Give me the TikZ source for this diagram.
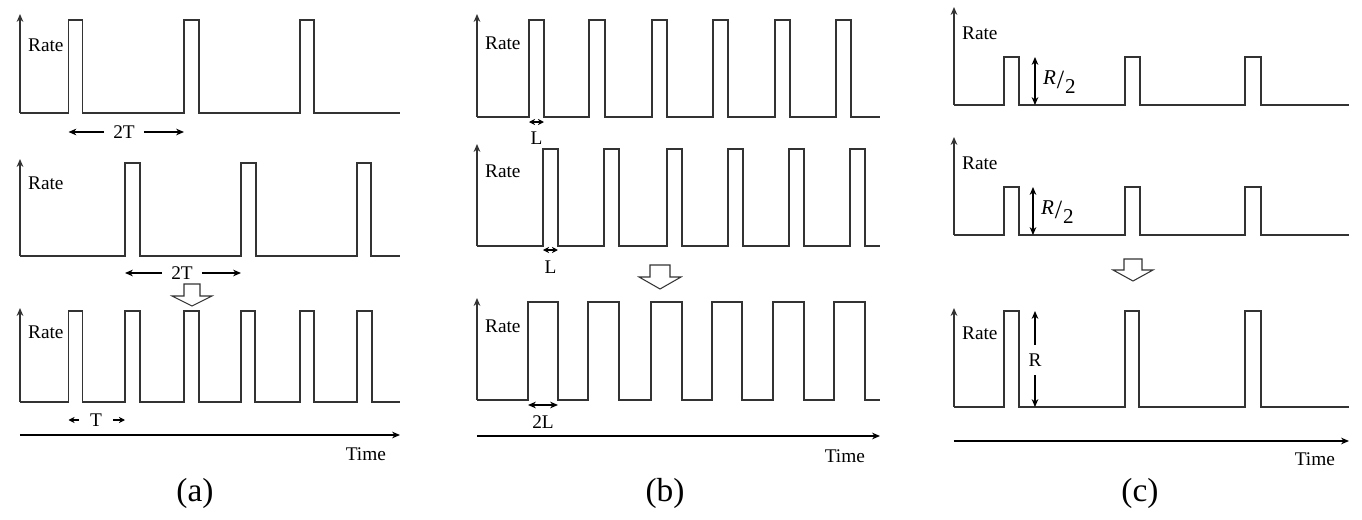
\documentclass[tikz,border=0pt]{standalone}
\usepackage{fontspec}
\setmainfont{Liberation Serif}
\usetikzlibrary{arrows.meta}
\begin{document}
\begin{tikzpicture}[scale=0.2, font=\fontsize{11}{13}\selectfont, line join=miter, >={Stealth[length=4.5pt,width=3.8pt]},
	signal/.style={draw=black!80, line width=0.8pt},
	dim/.style={draw=black, line width=0.6pt},
	short/.style={dim, >={Stealth[length=3.5pt,width=3.5pt]}},
	lbl/.style={inner sep=1pt},
	gap/.style={inner xsep=5pt, inner ysep=1pt},
	hollow/.style={draw=black!80, line width=0.6pt, fill=white},
	caption/.style={font=\fontsize{19}{22}\selectfont}]
	\useasboundingbox (0,0) rectangle (136.2,52);

	% (a) two trains with period 2T, shifted by T
	\draw[signal,->] (2,40.7)--(2,50.6);
	\draw[signal] (2,40.7)--(6.85,40.7)--(6.85,50)--(8.25,50)--(8.25,40.7)--(18.4,40.7)--(18.4,50)--(19.9,50)--(19.9,40.7)--(30,40.7)--(30,50)--(31.4,50)--(31.4,40.7)--(40,40.7);
	\node[lbl,anchor=west] (rateA1) at (2.6,47.5) {Rate};
	\node[gap] (twoTa) at (12.4,38.8) {2T};
	\coordinate (twoTaL) at (6.85,38.8);
	\coordinate (twoTaR) at (18.4,38.8);
	\draw[dim,->] (twoTa.west)--(twoTaL);
	\draw[dim,->] (twoTa.east)--(twoTaR);

	\draw[signal,->] (2,26.4)--(2,36.1);
	\draw[signal] (2,26.4)--(12.5,26.4)--(12.5,35.7)--(14,35.7)--(14,26.4)--(24.1,26.4)--(24.1,35.7)--(25.6,35.7)--(25.6,26.4)--(35.7,26.4)--(35.7,35.7)--(37.1,35.7)--(37.1,26.4)--(40,26.4);
	\node[lbl,anchor=west] (rateA2) at (2.6,33.7) {Rate};
	\node[gap] (twoTb) at (18.2,24.7) {2T};
	\coordinate (twoTbL) at (12.5,24.7);
	\coordinate (twoTbR) at (24.1,24.7);
	\draw[dim,->] (twoTb.west)--(twoTbL);
	\draw[dim,->] (twoTb.east)--(twoTbR);

	\draw[hollow] (18.4,23.6)--(20,23.6)--(20,22.4)--(21.2,22.4)--(19.2,21.4)--(17.2,22.4)--(18.4,22.4)--cycle;

	\draw[signal,->] (2,11.8)--(2,21.2);
	\draw[signal] (2,11.8)--(6.85,11.8)--(6.85,20.9)--(8.25,20.9)--(8.25,11.8)--(12.5,11.8)--(12.5,20.9)--(14,20.9)--(14,11.8)--(18.4,11.8)--(18.4,20.9)--(19.9,20.9)--(19.9,11.8)--(24.1,11.8)--(24.1,20.9)--(25.5,20.9)--(25.5,11.8)--(30,11.8)--(30,20.9)--(31.4,20.9)--(31.4,11.8)--(35.7,11.8)--(35.7,20.9)--(37.2,20.9)--(37.2,11.8)--(40,11.8);
	\node[lbl,anchor=west] (rateA3) at (2.6,18.8) {Rate};
	\node[gap,inner xsep=6pt] (oneT) at (9.6,10) {T};
	\coordinate (oneTL) at (6.85,10);
	\coordinate (oneTR) at (12.5,10);
	\draw[short,->] (oneT.west)--(oneTL);
	\draw[short,->] (oneT.east)--(oneTR);

	\coordinate (timeA0) at (2,8.5);
	\coordinate (timeA1) at (40,8.5);
	\draw[dim,->] (timeA0)--(timeA1);
	\node[lbl,anchor=east] (timeA) at (38.8,6.6) {Time};
	\node[caption] (capA) at (19.5,2.7) {(a)};

	% (b) two trains of width L, merged into width 2L
	\draw[signal,->] (47.7,40.3)--(47.7,50.6);
	\draw[signal] (47.7,40.3)--(52.9,40.3)--(52.9,50)--(54.4,50)--(54.4,40.3)--(58.9,40.3)--(58.9,50)--(60.5,50)--(60.5,40.3)--(65.2,40.3)--(65.2,50)--(66.7,50)--(66.7,40.3)--(71.3,40.3)--(71.3,50)--(72.8,50)--(72.8,40.3)--(77.5,40.3)--(77.5,50)--(79,50)--(79,40.3)--(83.6,40.3)--(83.6,50)--(85.1,50)--(85.1,40.3)--(88,40.3);
	\node[lbl,anchor=west] (rateB1) at (48.3,47.7) {Rate};
	\coordinate (lenAL) at (52.9,39.8);
	\coordinate (lenAR) at (54.4,39.8);
	\draw[short,<->] (lenAL)--(lenAR);
	\node[lbl] (lenA) at (53.65,38.2) {L};

	\draw[signal,->] (47.7,27.4)--(47.7,37.6);
	\draw[signal] (47.7,27.4)--(54.3,27.4)--(54.3,37.1)--(55.8,37.1)--(55.8,27.4)--(60.4,27.4)--(60.4,37.1)--(61.9,37.1)--(61.9,27.4)--(66.7,27.4)--(66.7,37.1)--(68.2,37.1)--(68.2,27.4)--(72.8,27.4)--(72.8,37.1)--(74.3,37.1)--(74.3,27.4)--(78.9,27.4)--(78.9,37.1)--(80.4,37.1)--(80.4,27.4)--(85,27.4)--(85,37.1)--(86.5,37.1)--(86.5,27.4)--(88,27.4);
	\node[lbl,anchor=west] (rateB2) at (48.3,34.9) {Rate};
	\coordinate (lenBL) at (54.3,27);
	\coordinate (lenBR) at (55.8,27);
	\draw[short,<->] (lenBL)--(lenBR);
	\node[lbl] (lenB) at (55.05,25.3) {L};

	\draw[hollow] (65,25.5)--(67,25.5)--(67,24.3)--(68.1,24.3)--(66,23.1)--(63.9,24.3)--(65,24.3)--cycle;

	\draw[signal,->] (47.7,12)--(47.7,22.2);
	\draw[signal] (47.7,12)--(52.8,12)--(52.8,21.8)--(55.8,21.8)--(55.8,12)--(58.8,12)--(58.8,21.8)--(61.9,21.8)--(61.9,12)--(65.1,12)--(65.1,21.8)--(68.2,21.8)--(68.2,12)--(71.2,12)--(71.2,21.8)--(74.2,21.8)--(74.2,12)--(77.3,12)--(77.3,21.8)--(80.4,21.8)--(80.4,12)--(83.4,12)--(83.4,21.8)--(86.5,21.8)--(86.5,12)--(88,12);
	\node[lbl,anchor=west] (rateB3) at (48.3,19.4) {Rate};
	\coordinate (lenCL) at (52.8,11.5);
	\coordinate (lenCR) at (55.8,11.5);
	\draw[dim,<->] (lenCL)--(lenCR);
	\node[lbl] (lenC) at (54.3,9.8) {2L};

	\coordinate (timeB0) at (47.7,8.4);
	\coordinate (timeB1) at (88,8.4);
	\draw[dim,->] (timeB0)--(timeB1);
	\node[lbl,anchor=east] (timeB) at (86.7,6.4) {Time};
	\node[caption] (capB) at (66.5,2.7) {(b)};

	% (c) two trains of height R/2, merged into height R
	\draw[signal,->] (95.4,41.5)--(95.4,51.3);
	\draw[signal] (95.4,41.5)--(100.4,41.5)--(100.4,46.3)--(101.9,46.3)--(101.9,41.5)--(112.5,41.5)--(112.5,46.3)--(114,46.3)--(114,41.5)--(124.5,41.5)--(124.5,46.3)--(126.1,46.3)--(126.1,41.5)--(134.9,41.5);
	\node[lbl,anchor=west] (rateC1) at (96,48.7) {Rate};
	\coordinate (halfAT) at (103.5,46.3);
	\coordinate (halfAB) at (103.5,41.5);
	\draw[dim,<->] (halfAT)--(halfAB);
	\node[lbl,anchor=west,font=\fontsize{12}{14}\selectfont] (halfA) at (104.1,43.8) {\raisebox{.5ex}{\textit{R}}\kern.5pt{\fontsize{15}{15}\selectfont/}\kern.5pt\raisebox{-.5ex}{2}};

	\draw[signal,->] (95.4,28.5)--(95.4,38.3);
	\draw[signal] (95.4,28.5)--(100.4,28.5)--(100.4,33.3)--(101.9,33.3)--(101.9,28.5)--(112.5,28.5)--(112.5,33.3)--(114,33.3)--(114,28.5)--(124.5,28.5)--(124.5,33.3)--(126.1,33.3)--(126.1,28.5)--(134.9,28.5);
	\node[lbl,anchor=west] (rateC2) at (96,35.7) {Rate};
	\coordinate (halfBT) at (103.3,33.3);
	\coordinate (halfBB) at (103.3,28.5);
	\draw[dim,<->] (halfBT)--(halfBB);
	\node[lbl,anchor=west,font=\fontsize{12}{14}\selectfont] (halfB) at (103.9,30.8) {\raisebox{.5ex}{\textit{R}}\kern.5pt{\fontsize{15}{15}\selectfont/}\kern.5pt\raisebox{-.5ex}{2}};

	\draw[hollow] (112.4,26.1)--(114.2,26.1)--(114.2,25)--(115.3,25)--(113.3,23.9)--(111.3,25)--(112.4,25)--cycle;

	\draw[signal,->] (95.4,11.3)--(95.4,21.2);
	\draw[signal] (95.4,11.3)--(100.4,11.3)--(100.4,20.9)--(101.9,20.9)--(101.9,11.3)--(112.5,11.3)--(112.5,20.9)--(113.9,20.9)--(113.9,11.3)--(124.5,11.3)--(124.5,20.9)--(126.1,20.9)--(126.1,11.3)--(134.9,11.3);
	\node[lbl,anchor=west] (rateC3) at (96,18.7) {Rate};
	\node[inner ysep=5pt] (fullR) at (103.5,16) {R};
	\coordinate (fullRT) at (103.5,20.9);
	\coordinate (fullRB) at (103.5,11.3);
	\draw[dim,->] (fullR.north)--(fullRT);
	\draw[dim,->] (fullR.south)--(fullRB);

	\coordinate (timeC0) at (95.4,7.9);
	\coordinate (timeC1) at (134.9,7.9);
	\draw[dim,->] (timeC0)--(timeC1);
	\node[lbl,anchor=east] (timeC) at (133.7,6.1) {Time};
	\node[caption] (capC) at (114,2.7) {(c)};
\end{tikzpicture}
\end{document}
